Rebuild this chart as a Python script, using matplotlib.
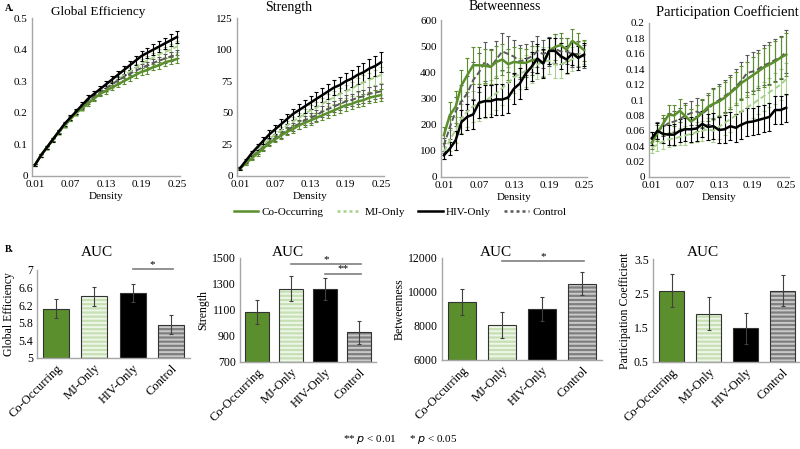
import matplotlib
matplotlib.use('Agg')
import matplotlib.pyplot as plt
from matplotlib.lines import Line2D

plt.rcParams['font.family'] = ['Liberation Serif', 'DejaVu Serif']
plt.rcParams['hatch.linewidth'] = 1.4

density = [0.01, 0.02, 0.03, 0.04, 0.05, 0.06, 0.07, 0.08, 0.09, 0.10, 0.11, 0.12, 0.13,
           0.14, 0.15, 0.16, 0.17, 0.18, 0.19, 0.20, 0.21, 0.22, 0.23, 0.24, 0.25]
groups = ['Co-Occurring', 'MJ-Only', 'HIV-Only', 'Control']
bar_labels = ['Co-Occurring', 'MJ-Only', 'HIV-Only', 'Control']

# ---- Global efficiency ----
ge_co = [0.035, 0.065, 0.09, 0.115, 0.14, 0.16, 0.18, 0.20, 0.215, 0.23, 0.245, 0.26, 0.27,
         0.28, 0.29, 0.30, 0.31, 0.32, 0.33, 0.335, 0.345, 0.35, 0.36, 0.365, 0.37]
ge_mj = [0.035, 0.063, 0.088, 0.112, 0.137, 0.16, 0.18, 0.198, 0.215, 0.232, 0.248, 0.262, 0.276,
         0.29, 0.305, 0.318, 0.33, 0.342, 0.355, 0.365, 0.375, 0.385, 0.393, 0.40, 0.41]
ge_hiv = [0.035, 0.065, 0.09, 0.115, 0.14, 0.165, 0.185, 0.205, 0.225, 0.245, 0.26, 0.275, 0.29,
          0.305, 0.32, 0.335, 0.35, 0.365, 0.38, 0.39, 0.40, 0.41, 0.42, 0.43, 0.44]
ge_ctl = [0.035, 0.065, 0.09, 0.115, 0.14, 0.162, 0.183, 0.202, 0.22, 0.236, 0.25, 0.264, 0.277,
          0.29, 0.302, 0.313, 0.323, 0.333, 0.342, 0.35, 0.358, 0.365, 0.372, 0.378, 0.385]
ge_co_err = [0.003, 0.004, 0.004, 0.005, 0.005, 0.006, 0.006, 0.007, 0.007, 0.008, 0.008, 0.008, 0.009,
             0.009, 0.009, 0.010, 0.010, 0.010, 0.011, 0.011, 0.011, 0.012, 0.012, 0.012, 0.012]
ge_mj_err = [0.003, 0.004, 0.005, 0.005, 0.006, 0.007, 0.007, 0.008, 0.009, 0.009, 0.010, 0.010, 0.011,
             0.012, 0.012, 0.013, 0.013, 0.014, 0.014, 0.015, 0.015, 0.016, 0.016, 0.017, 0.017]
ge_hiv_err = [0.003, 0.004, 0.005, 0.006, 0.006, 0.007, 0.008, 0.008, 0.009, 0.010, 0.010, 0.011, 0.012,
              0.012, 0.013, 0.014, 0.014, 0.015, 0.016, 0.016, 0.017, 0.018, 0.018, 0.019, 0.020]
ge_ctl_err = [0.003, 0.004, 0.004, 0.005, 0.005, 0.006, 0.006, 0.007, 0.007, 0.008, 0.008, 0.009, 0.009,
              0.009, 0.010, 0.010, 0.011, 0.011, 0.011, 0.012, 0.012, 0.012, 0.013, 0.013, 0.013]

# ---- Strength ----
st_co = [6, 10, 14, 18, 22, 26, 29, 32, 35, 37, 40, 42, 44, 46, 48, 50, 52, 54, 56, 57, 59, 60, 62, 63, 64]
st_mj = [6, 11, 16, 21, 25, 29, 33, 36, 40, 43, 46, 49, 52, 54, 57, 60, 62, 65, 67, 69, 72, 74, 76, 78, 80]
st_hiv = [6, 12, 18, 23, 28, 33, 37, 41, 45, 49, 52, 55, 58, 61, 64, 67, 70, 72, 75, 77, 80, 82, 85, 87, 90]
st_ctl = [6, 10, 15, 19, 23, 27, 30, 33, 36, 39, 41, 44, 46, 48, 51, 53, 55, 57, 59, 60, 62, 63, 65, 66, 67]
st_co_err = [0.8, 1.2, 1.5, 1.8, 2.0, 2.2, 2.4, 2.6, 2.8, 3.0, 3.2, 3.3, 3.5, 3.6, 3.8, 3.9, 4.0, 4.1, 4.2, 4.3, 4.4, 4.5, 4.6, 4.7, 4.8]
st_mj_err = [0.9, 1.3, 1.7, 2.0, 2.3, 2.6, 2.8, 3.0, 3.3, 3.5, 3.7, 3.9, 4.1, 4.3, 4.5, 4.7, 4.9, 5.0, 5.2, 5.4, 5.5, 5.7, 5.8, 6.0, 6.1]
st_hiv_err = [1.0, 1.6, 2.1, 2.5, 2.9, 3.2, 3.5, 3.8, 4.1, 4.4, 4.7, 5.0, 5.2, 5.5, 5.7, 6.0, 6.2, 6.5, 6.7, 6.9, 7.2, 7.4, 7.6, 7.8, 8.0]
st_ctl_err = [0.8, 1.2, 1.6, 1.9, 2.2, 2.5, 2.7, 2.9, 3.1, 3.3, 3.5, 3.7, 3.9, 4.1, 4.2, 4.4, 4.5, 4.7, 4.8, 5.0, 5.1, 5.2, 5.3, 5.4, 5.5]

# ---- Betweenness ----
bt_co = [160, 236, 268, 350, 389, 427, 427, 425, 421, 440, 449, 431, 440, 437, 436, 446, 449, 434, 481, 497, 504, 487, 520, 504, 485]
bt_mj = [95, 140, 180, 225, 250, 270, 280, 290, 305, 320, 340, 360, 380, 395, 405, 415, 430, 440, 445, 430, 430, 440, 450, 470, 475]
bt_hiv = [83, 108, 140, 210, 230, 239, 284, 290, 290, 297, 296, 304, 338, 357, 395, 421, 453, 434, 482, 482, 462, 449, 472, 455, 468]
bt_ctl = [120, 190, 250, 290, 320, 370, 400, 440, 420, 450, 480, 470, 460, 440, 450, 460, 480, 470, 480, 490, 480, 480, 470, 470, 460]
bt_co_err = [30, 50, 60, 60, 65, 70, 70, 65, 65, 60, 60, 60, 55, 55, 55, 55, 50, 50, 50, 50, 45, 45, 45, 45, 40]
bt_mj_err = [25, 40, 50, 55, 60, 60, 65, 65, 65, 65, 65, 60, 60, 60, 60, 55, 55, 55, 50, 50, 50, 45, 45, 45, 45]
bt_hiv_err = [15, 25, 35, 45, 50, 55, 60, 60, 60, 60, 60, 60, 60, 60, 60, 55, 55, 55, 50, 50, 50, 50, 45, 45, 45]
bt_ctl_err = [30, 45, 55, 60, 65, 70, 75, 75, 70, 70, 70, 70, 65, 65, 60, 60, 60, 55, 55, 55, 50, 50, 50, 50, 45]

# ---- Participation coefficient ----
pc_co = [0.0445, 0.057, 0.069, 0.081, 0.080, 0.086, 0.079, 0.072, 0.077, 0.083, 0.091, 0.095, 0.098,
         0.103, 0.109, 0.115, 0.122, 0.127, 0.132, 0.137, 0.1425, 0.146, 0.150, 0.155, 0.159]
pc_mj = [0.038, 0.042, 0.046, 0.049, 0.050, 0.052, 0.054, 0.056, 0.058, 0.060, 0.062, 0.060, 0.065,
         0.070, 0.075, 0.080, 0.085, 0.090, 0.095, 0.100, 0.105, 0.110, 0.115, 0.120, 0.127]
pc_hiv = [0.050, 0.060, 0.056, 0.055, 0.055, 0.060, 0.062, 0.062, 0.063, 0.069, 0.065, 0.066, 0.061,
          0.062, 0.066, 0.064, 0.068, 0.071, 0.072, 0.074, 0.076, 0.078, 0.087, 0.087, 0.090]
pc_ctl = [0.050, 0.060, 0.065, 0.070, 0.072, 0.075, 0.080, 0.083, 0.085, 0.082, 0.088, 0.095, 0.100,
          0.105, 0.110, 0.117, 0.125, 0.135, 0.137, 0.140, 0.145, 0.148, 0.152, 0.155, 0.163]
pc_co_err = [0.008, 0.010, 0.012, 0.013, 0.014, 0.015, 0.015, 0.016, 0.017, 0.018, 0.018, 0.019, 0.020,
             0.020, 0.021, 0.022, 0.022, 0.023, 0.024, 0.024, 0.025, 0.026, 0.026, 0.027, 0.028]
pc_mj_err = [0.007, 0.008, 0.009, 0.010, 0.010, 0.011, 0.012, 0.012, 0.013, 0.013, 0.014, 0.014, 0.015,
             0.015, 0.016, 0.016, 0.017, 0.017, 0.018, 0.018, 0.019, 0.019, 0.020, 0.020, 0.021]
pc_hiv_err = [0.008, 0.010, 0.012, 0.013, 0.014, 0.015, 0.015, 0.016, 0.016, 0.017, 0.017, 0.017, 0.017,
              0.018, 0.018, 0.018, 0.018, 0.018, 0.018, 0.018, 0.018, 0.018, 0.018, 0.018, 0.018]
pc_ctl_err = [0.009, 0.011, 0.012, 0.013, 0.014, 0.015, 0.016, 0.016, 0.017, 0.018, 0.019, 0.020, 0.021,
              0.021, 0.022, 0.023, 0.024, 0.024, 0.025, 0.025, 0.026, 0.027, 0.027, 0.028, 0.028]

# ---- AUC bars ----
auc_ge = [6.12, 6.40, 6.48, 5.76]
auc_ge_err = [0.22, 0.22, 0.20, 0.21]
auc_st = [1085, 1265, 1262, 928]
auc_st_err = [95, 95, 88, 90]
auc_bt = [9400, 8050, 8980, 10500]
auc_bt_err = [750, 760, 700, 700]
auc_pc = [2.58, 1.90, 1.48, 2.57]
auc_pc_err = [0.47, 0.48, 0.45, 0.45]

GREEN = '#5b8f2d'
LGREEN = '#a9d18e'
DGRAY = '#595959'
AXC = '#a6a6a6'

fig = plt.figure(figsize=(8.0, 4.49), dpi=100)

def px(x0, y0, x1, y1):
    return [x0 / 800, 1 - y1 / 449, (x1 - x0) / 800, (y1 - y0) / 449]

def style(ax):
    for s in ['top', 'right']:
        ax.spines[s].set_visible(False)
    for s in ['left', 'bottom']:
        ax.spines[s].set_color(AXC)
        ax.spines[s].set_linewidth(1.0)
    ax.tick_params(length=0, labelsize=8, pad=3)

line_specs = [
    ('MJ-Only', LGREEN, (0, (3, 1.5)), 1.4),
    ('Control', DGRAY, (0, (3, 1.5)), 1.4),
    ('Co-Occurring', GREEN, '-', 1.8),
    ('HIV-Only', 'black', '-', 1.8),
]

panels = [
    ('Global Efficiency', {'Co-Occurring': (ge_co, ge_co_err), 'MJ-Only': (ge_mj, ge_mj_err),
                           'HIV-Only': (ge_hiv, ge_hiv_err), 'Control': (ge_ctl, ge_ctl_err)},
     (0, 0.5), [0, 0.1, 0.2, 0.3, 0.4, 0.5], ['0', '0.1', '0.2', '0.3', '0.4', '0.5'],
     (32, 18, 180, 176), (98, 12, 9.5)),
    ('Strength', {'Co-Occurring': (st_co, st_co_err), 'MJ-Only': (st_mj, st_mj_err),
                  'HIV-Only': (st_hiv, st_hiv_err), 'Control': (st_ctl, st_ctl_err)},
     (0, 125), [0, 25, 50, 75, 100, 125], ['0', '25', '50', '75', '100', '125'],
     (237, 18, 384, 176), (289, 8, 10)),
    ('Betweenness', {'Co-Occurring': (bt_co, bt_co_err), 'MJ-Only': (bt_mj, bt_mj_err),
                     'HIV-Only': (bt_hiv, bt_hiv_err), 'Control': (bt_ctl, bt_ctl_err)},
     (0, 600), [0, 100, 200, 300, 400, 500, 600], ['0', '100', '200', '300', '400', '500', '600'],
     (441, 20, 587, 177), (505, 7, 10)),
    ('Participation Coefficient', {'Co-Occurring': (pc_co, pc_co_err), 'MJ-Only': (pc_mj, pc_mj_err),
                                   'HIV-Only': (pc_hiv, pc_hiv_err), 'Control': (pc_ctl, pc_ctl_err)},
     (0, 0.2), [0, 0.02, 0.04, 0.06, 0.08, 0.1, 0.12, 0.14, 0.16, 0.18, 0.2],
     ['0', '0.02', '0.04', '0.06', '0.08', '0.1', '0.12', '0.14', '0.16', '0.18', '0.2'],
     (649, 23, 789, 177), (727, 12, 10.5)),
]

xpos = list(range(1, len(density) + 1))
for title, data, ylim, yt, ytl, box, tpos in panels:
    ax = fig.add_axes(px(*box))
    style(ax)
    for name, col, ls, lw in line_specs:
        vals, errs = data[name]
        ax.errorbar(xpos, vals, yerr=errs, color=col, ls=ls, lw=lw, elinewidth=0.8,
                    capsize=1.5, capthick=0.8)
    ax.set_xlim(0.5, len(density) + 0.5)
    ax.set_ylim(*ylim)
    ax.set_yticks(yt)
    ax.set_yticklabels(ytl)
    ticks = [1, 7, 13, 19, 25]
    ax.set_xticks(ticks)
    ax.set_xticklabels([f"{density[t - 1]:.2f}" for t in ticks])
    ax.set_xlabel('Density', fontsize=8, labelpad=2)
    fig.text(tpos[0] / 800, 1 - tpos[1] / 449, title, ha='center', va='center', fontsize=tpos[2])

fig.text(0.006, 0.99, 'A.', fontsize=7, fontweight='bold', va='top')
fig.text(0.006, 0.455, 'B.', fontsize=7, fontweight='bold', va='top')

handles = [Line2D([], [], color=GREEN, lw=1.8, ls='-'),
           Line2D([], [], color=LGREEN, lw=1.8, ls=(0, (1.2, 1.2))),
           Line2D([], [], color='black', lw=1.8, ls='-'),
           Line2D([], [], color=DGRAY, lw=1.8, ls=(0, (1.2, 1.2)))]
fig.legend(handles, groups, loc='center', bbox_to_anchor=(0.5, 1 - 212 / 449), ncol=4, frameon=False,
           fontsize=8, handlelength=2.2, handletextpad=0.3, columnspacing=1.2)

# ---- bar panels ----
bar_panels = [
    (auc_ge, auc_ge_err, 'Global Efficiency', (5, 7), [5, 5.4, 5.8, 6.2, 6.6, 7],
     ['5', '5.4', '5.8', '6.2', '6.6', '7'], (37, 270, 190, 358), 97),
    (auc_st, auc_st_err, 'Strength', (700, 1500), [700, 900, 1100, 1300, 1500],
     ['700', '900', '1100', '1300', '1500'], (240, 258, 376, 362), 288),
    (auc_bt, auc_bt_err, 'Betweenness', (6000, 12000), [6000, 8000, 10000, 12000],
     ['6000', '8000', '10000', '12000'], (442, 258, 602, 360), 496),
    (auc_pc, auc_pc_err, 'Participation Coefficient', (0.5, 3.5), [0.5, 1.5, 2.5, 3.5],
     ['0.5', '1.5', '2.5', '3.5'], (653, 259, 801, 362), 703),
]
faces = [GREEN, '#c6e0b4', 'black', '#7f7f7f']
hatches = [None, '----', None, '----']
hatch_cols = [None, '#eef6e8', None, '#c9c9c9']

bar_axes = []
for vals, errs, ylab, ylim, yt, ytl, box, tx in bar_panels:
    ax = fig.add_axes(px(*box))
    style(ax)
    ax.tick_params(labelsize=8.5)
    x = list(range(len(vals)))
    for i in x:
        if hatches[i]:
            ax.bar(i, vals[i] - ylim[0], bottom=ylim[0], width=0.68, color=faces[i], hatch=hatches[i],
                   edgecolor=hatch_cols[i], linewidth=0)
        else:
            ax.bar(i, vals[i] - ylim[0], bottom=ylim[0], width=0.68, color=faces[i], linewidth=0)
        ax.bar(i, vals[i] - ylim[0], bottom=ylim[0], width=0.68, fill=False, edgecolor='#333333', linewidth=0.8)
    ax.errorbar(x, vals, yerr=errs, fmt='none', ecolor='#404040', elinewidth=0.8, capsize=1.5, capthick=0.8)
    ax.set_xlim(-0.5, 3.5)
    ax.set_ylim(*ylim)
    ax.set_yticks(yt)
    ax.set_yticklabels(ytl)
    ax.set_xticks(x)
    ax.set_xticklabels(bar_labels, rotation=45, ha='right', rotation_mode='anchor', fontsize=9)
    ax.set_ylabel(ylab, fontsize=8.5, labelpad=2)
    fig.text(tx / 800, 1 - 253 / 449, 'AUC', ha='center', va='center', fontsize=11)
    bar_axes.append(ax)

def sig(ax, i0, i1, y, txt):
    ax.plot([i0, i1], [y, y], color='#7f7f7f', lw=1.2, clip_on=False)
    ax.text((i0 + i1) / 2, y, txt, ha='center', va='bottom', fontsize=8)

sig(bar_axes[0], 2, 3.05, 7.03, '*')
sig(bar_axes[1], 1, 3.05, 1455, '*')
sig(bar_axes[1], 2, 3.05, 1380, '**')
sig(bar_axes[2], 1, 3.05, 11800, '*')

fig.text(0.5, 1 - 440 / 449, r'** $\it{p}$ < 0.01     * $\it{p}$ < 0.05', ha='center', va='center', fontsize=8)

fig.savefig('out.png', dpi=100)
